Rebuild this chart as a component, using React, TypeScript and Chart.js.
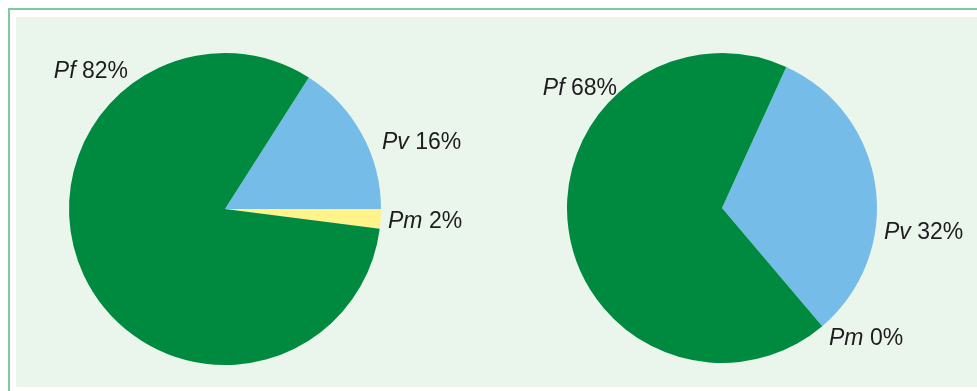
import React, { useEffect, useRef } from "react";
import { Chart, registerables } from "chart.js";

Chart.register(...registerables);

const categories = ["Pv", "Pm", "Pf"];
const leftValues = [16, 2, 82];
const rightValues = [32, 0, 68];
const sliceColors = ["#75BDE8", "#FFF38A", "#008A40"];

const FONT = '"Liberation Sans", Arial, sans-serif';

const labelPlugin = {
  id: "pieLabels",
  afterDraw(chart: any, _args: any, opts: any) {
    const meta = chart.getDatasetMeta(0);
    const arc = meta.data[0];
    if (!arc) return;
    const { x, y } = arc;
    const ctx = chart.ctx;
    const values = chart.data.datasets[0].data;
    const fs = opts.fontSize || 22;
    ctx.save();
    ctx.fillStyle = "#1E1C1D";
    ctx.textBaseline = "middle";
    ctx.textAlign = "left";
    chart.data.labels.forEach((lab: string, i: number) => {
      const p = opts.offsets[i];
      const italic = `italic ${fs}px ${FONT}`;
      const normal = `${fs}px ${FONT}`;
      const rest = " " + values[i] + "%";
      ctx.font = italic;
      const w1 = ctx.measureText(lab).width;
      ctx.font = normal;
      const w2 = ctx.measureText(rest).width;
      let sx = x + p[0];
      if (p[2] === "right") sx -= w1 + w2;
      const sy = y + p[1];
      ctx.font = italic;
      ctx.fillText(lab, sx, sy);
      ctx.font = normal;
      ctx.fillText(rest, sx + w1, sy);
    });
    ctx.restore();
  },
};

function PieChart(props: {
  values: number[];
  rotation: number;
  padding: { left: number; top: number; right: number; bottom: number };
  offsets: any[];
  width: number;
  height: number;
  style: React.CSSProperties;
}) {
  const ref = useRef<HTMLCanvasElement | null>(null);
  useEffect(() => {
    if (!ref.current) return;
    const chart = new Chart(ref.current, {
      type: "pie",
      data: {
        labels: categories,
        datasets: [
          {
            data: props.values,
            backgroundColor: sliceColors,
            borderWidth: 0,
          },
        ],
      },
      options: {
        responsive: false,
        animation: false,
        rotation: props.rotation,
        layout: { padding: props.padding },
        plugins: {
          legend: { display: false },
          tooltip: { enabled: false },
          pieLabels: { offsets: props.offsets, fontSize: 23 },
        } as any,
      },
      plugins: [labelPlugin],
    });
    return () => chart.destroy();
  }, []);
  return (
    <canvas
      ref={ref}
      width={props.width}
      height={props.height}
      style={{ position: "absolute", ...props.style, width: props.width, height: props.height }}
    />
  );
}

export default function App() {
  return (
    <div style={{ position: "fixed", left: 0, top: 0, width: 977, height: 391, overflow: "hidden", background: "#fff" }}>
      <div
        style={{
          position: "absolute",
          left: 8,
          top: 8,
          width: 1000,
          height: 400,
          borderTop: "2px solid #80C9A0",
          borderLeft: "2px solid #80C9A0",
        }}
      />
      <div style={{ position: "absolute", left: 16, top: 17, width: 980, height: 370, background: "#EAF5EC" }} />
      <PieChart
        values={leftValues}
        rotation={32.5}
        padding={{ left: 69, top: 53, right: 109, bottom: 26 }}
        offsets={[
          [157, -66, "left"],
          [163, 13, "left"],
          [-97, -137, "right"],
        ]}
        width={490}
        height={391}
        style={{ left: 0, top: 0 }}
      />
      <PieChart
        values={rightValues}
        rotation={24.5}
        padding={{ left: 77, top: 53, right: 100, bottom: 28 }}
        offsets={[
          [162, 25, "left"],
          [107, 131, "left"],
          [-105, -119, "right"],
        ]}
        width={487}
        height={391}
        style={{ left: 490, top: 0 }}
      />
    </div>
  );
}
